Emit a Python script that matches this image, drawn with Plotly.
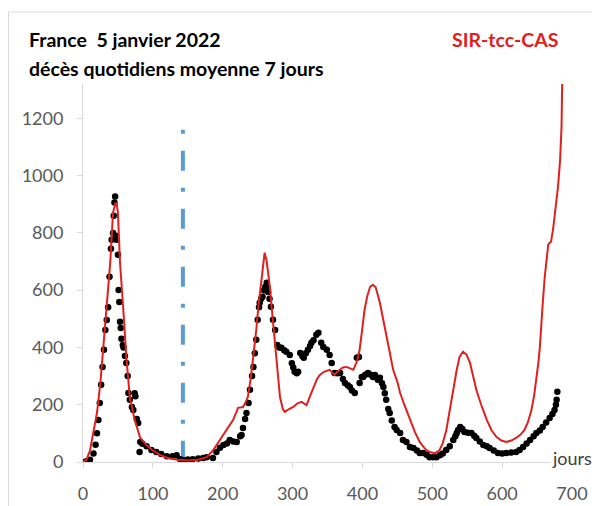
import plotly.graph_objects as go

# Observed: daily deaths, 7-day mean (black dots)
obs_day = [0, 5, 10, 15, 18, 20, 22, 24, 26, 28, 30, 32, 34, 36, 38, 40, 41, 43, 44, 45, 46, 47, 48, 50, 51, 52,
           53, 54, 55, 57, 58, 60, 62, 64, 65, 67, 70, 72, 74, 75, 77, 79, 81, 82, 85, 91, 98, 105, 112, 120, 128,
           134, 139, 143, 150, 157, 165, 172, 177, 186, 191, 196, 201, 206, 210, 215, 220, 225, 227, 229, 232,
           234, 237, 239, 242, 244, 246, 248, 250, 252, 253, 255, 257, 259, 261, 263, 264, 265, 267, 269, 272,
           275, 278, 281, 284, 288, 291, 296, 299, 301, 303, 306, 308, 311, 314, 316, 319, 322, 325, 327, 330,
           334, 337, 341, 344, 349, 353, 356, 360, 364, 368, 372, 375, 379, 382, 385, 389, 392, 395, 396, 399,
           401, 404, 408, 412, 415, 418, 422, 425, 428, 430, 432, 434, 437, 439, 442, 446, 449, 454, 458, 463,
           468, 473, 478, 482, 487, 492, 496, 501, 506, 511, 515, 520, 525, 530, 533, 535, 537, 540, 543, 546,
           551, 556, 560, 563, 568, 573, 578, 582, 588, 594, 600, 606, 613, 620, 625, 630, 635, 640, 645, 649,
           654, 658, 663, 668, 672, 675, 677, 678, 679]
obs_deaths = [0, 3, 8, 30, 60, 100, 147, 206, 270, 332, 392, 461, 496, 540, 647, 745, 776, 800, 860, 906, 927,
              790, 776, 724, 601, 559, 490, 468, 430, 409, 400, 370, 346, 300, 241, 217, 192, 182, 240, 230, 150,
              136, 35, 70, 64, 55, 42, 35, 28, 20, 20, 24, 10, 7, 9, 10, 12, 14, 17, 14, 35, 50, 59, 65, 77, 72,
              70, 90, 94, 119, 150, 171, 206, 252, 300, 332, 380, 427, 497, 540, 556, 570, 577, 600, 612, 626,
              610, 594, 570, 542, 497, 461, 409, 400, 399, 390, 385, 374, 345, 330, 315, 310, 315, 381, 370, 364,
              380, 392, 405, 416, 425, 444, 451, 416, 402, 392, 374, 346, 311, 310, 311, 290, 276, 268, 262, 250,
              241, 364, 367, 276, 297, 297, 305, 311, 305, 297, 304, 287, 294, 275, 262, 240, 217, 185, 171, 145,
              122, 112, 101, 77, 70, 52, 49, 40, 31, 31, 25, 17, 17, 17, 24, 30, 42, 55, 77, 90, 101, 112, 122,
              115, 105, 102, 101, 92, 84, 72, 59, 55, 49, 40, 31, 30, 31, 33, 35, 42, 52, 65, 77, 90, 101, 110,
              122, 138, 154, 168, 182, 200, 217, 245]

# Model SIR-tcc-CAS (red line)
mod_day = [0, 5, 10, 15, 20, 25, 29, 33, 36, 39, 43, 46, 48, 50, 53, 56, 58, 62, 67, 74, 82, 91, 100, 110, 120,
           135, 150, 165, 177, 186, 196, 205, 215, 222, 229, 232, 236, 240, 244, 248, 251, 254, 257, 260, 263,
           265, 268, 270, 273, 275, 279, 282, 286, 289, 295, 301, 307, 313, 317, 320, 325, 330, 335, 339, 345,
           353, 357, 360, 364, 368, 372, 377, 382, 387, 392, 396, 400, 403, 407, 411, 415, 419, 425, 430, 434,
           440, 444, 450, 454, 460, 468, 475, 482, 490, 496, 504, 510, 515, 520, 525, 530, 535, 539, 544, 549,
           554, 558, 563, 570, 578, 585, 592, 599, 606, 613, 620, 626, 632, 637, 642, 646, 649, 652, 654, 656,
           658, 661, 664, 666, 668, 670, 673, 675, 678, 680, 683, 685, 686]
mod_deaths = [0, 8, 40, 100, 171, 280, 402, 540, 620, 696, 871, 900, 906, 870, 696, 600, 521, 367, 227, 147, 84,
              59, 40, 25, 15, 8, 5, 8, 17, 40, 77, 110, 147, 189, 192, 205, 227, 290, 367, 460, 542, 610, 682,
              731, 700, 661, 600, 542, 460, 392, 290, 227, 185, 175, 185, 192, 205, 210, 203, 199, 230, 262, 290,
              304, 315, 322, 312, 304, 315, 322, 330, 332, 328, 322, 350, 392, 470, 531, 580, 612, 619, 610, 556,
              495, 437, 370, 322, 280, 241, 200, 147, 105, 70, 45, 35, 31, 40, 66, 110, 182, 255, 322, 367, 385,
              375, 346, 305, 252, 200, 147, 110, 87, 75, 70, 75, 84, 95, 112, 140, 182, 235, 287, 350, 402, 461,
              550, 647, 730, 759, 765, 769, 815, 857, 920, 962, 1056, 1171, 1330]

# Vertical marker (day)
marker_day = [143, 143]
marker_level = [1160, 0]

x_ticks = [0, 100, 200, 300, 400, 500, 600, 700]
y_ticks = [0, 200, 400, 600, 800, 1000, 1200]

FONT = "Lato"
OFF = 8  # page body margin
W, H = 600 - OFF, 506 - OFF
L, R, T, B = 83 - OFF, 28, 84 - OFF, 44
pw, ph = W - L - R, H - T - B

def px(xs):
    return (xs - OFF - L) / pw

def py(ys):
    return (H - B - (ys - OFF)) / ph

fig = go.Figure()
fig.add_trace(go.Scatter(x=marker_day, y=marker_level, mode="lines",
                         line=dict(color="#5B9BD5", width=4, dash="4px,17px,20px,17px"),
                         showlegend=False, hoverinfo="skip"))
fig.add_trace(go.Scatter(x=obs_day, y=obs_deaths, mode="markers",
                         marker=dict(color="black", size=6.5), showlegend=False))
fig.add_trace(go.Scatter(x=mod_day, y=mod_deaths, mode="lines",
                         line=dict(color="#E0201F", width=2), showlegend=False))

axis_common = dict(showgrid=False, zeroline=False, showline=True, linecolor="#D9D9D9", linewidth=1,
                   ticks="outside", ticklen=5, tickcolor="#D9D9D9", automargin=False,
                   tickfont=dict(family=FONT, size=18, color="#595959"), ticklabelstandoff=10)

fig.update_layout(
    width=W, height=H,
    margin=dict(l=L, r=R, t=T, b=B, autoexpand=False),
    paper_bgcolor="white", plot_bgcolor="white",
    font=dict(family=FONT, color="#595959", size=18),
    showlegend=False,
    xaxis=dict(range=[0, 700], tickvals=x_ticks, **axis_common),
    yaxis=dict(range=[0, 1320], tickvals=y_ticks, **axis_common),
    shapes=[dict(type="rect", xref="paper", yref="paper",
                 x0=px(8.5), x1=px(640), y0=py(560), y1=py(12),
                 line=dict(color="#D9D9D9", width=1), fillcolor="rgba(0,0,0,0)", layer="below")],
    annotations=[
        dict(text="<b>France\u00a0 5 janvier 2022</b>", xref="paper", yref="paper",
             x=px(27), y=py(40), xanchor="left", yanchor="middle", showarrow=False,
             font=dict(family=FONT, size=19.5, color="black")),
        dict(text="<b>décès quotidiens moyenne 7 jours</b>", xref="paper", yref="paper",
             x=px(27), y=py(68), xanchor="left", yanchor="middle", showarrow=False,
             font=dict(family=FONT, size=19.5, color="black")),
        dict(text="<b>SIR-tcc-CAS</b>", xref="paper", yref="paper",
             x=px(450), y=py(40), xanchor="left", yanchor="middle", showarrow=False,
             font=dict(family=FONT, size=19.5, color="#E0201F")),
        dict(text="jours", xref="x", yref="y", x=700, y=14, xanchor="center", yanchor="middle",
             showarrow=False, bgcolor="white", font=dict(family=FONT, size=18, color="#404040")),
    ],
)

fig.write_html("out.html")
